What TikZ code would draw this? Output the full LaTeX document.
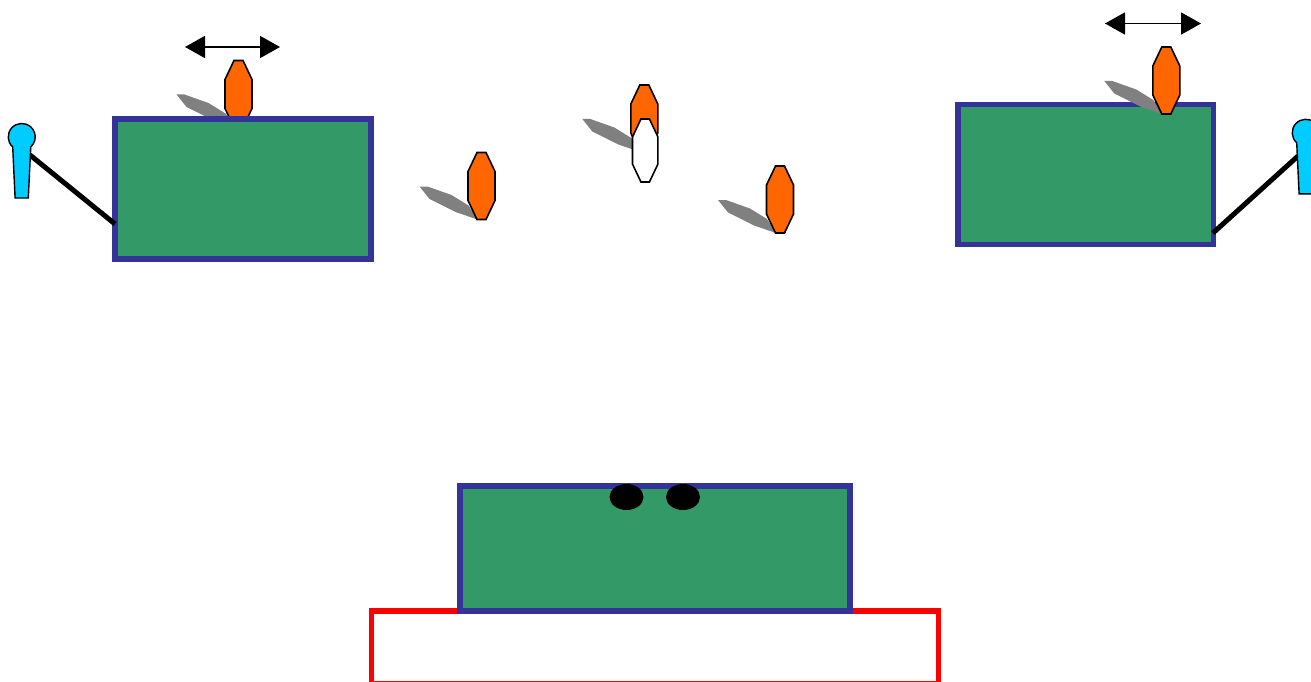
\documentclass[tikz,border=0pt]{standalone}
\usepackage{xcolor}
\usepackage{tikz}
\usetikzlibrary{arrows.meta, shapes.geometric}
\definecolor{bodygreen}{HTML}{339966}
\definecolor{edgeblue}{HTML}{333399}
\definecolor{cutorange}{HTML}{FF6600}
\definecolor{gripblue}{HTML}{00CCFF}
\tikzset{
  block/.style = {draw=edgeblue, fill=bodygreen, line width=5.5pt, inner sep=0pt},
  base/.style  = {draw=red, fill=white, line width=5.5pt, inner sep=0pt},
  hole/.style  = {ellipse, fill=black, inner sep=0pt, minimum width=34pt, minimum height=26pt},
  rod/.style   = {line width=5pt},
  span/.style  = {{Triangle[length=20pt,width=22pt]}-{Triangle[length=20pt,width=22pt]}, line width=1.8pt},
  pics/blade/.style = {code={
    \fill[gray] (-62,34)--(-54,34)--(-30,42.5)--(-13,53)--(-4,67)--(-26,59.5)--(-52,46.5)--cycle;}},
  pics/octa/.style = {code={
    \draw[line width=1.6pt, fill=#1] (-4.5,0)--(4.5,0)--(13.5,19)--(13.5,48)--(4.5,67)
      --(-4.5,67)--(-13.5,48)--(-13.5,19)--cycle;}},
  pics/grip/.style = {code={
    \draw[line width=1.4pt, fill=gripblue] (-9,10) arc[start angle=132, end angle=408, radius=13.5]
      --(6.6,61)--(-6.6,61)--cycle;}},
}
\begin{document}
\begin{tikzpicture}[x=1pt, y=-1pt]
  \useasboundingbox (0,0) rectangle (1311,682);
  \clip (0,0) rectangle (1311,682);
  % left stage
  \pic at (238.5,60.5) {blade};
  \pic at (238.5,60.5) {octa=cutorange};
  \node[block, minimum width=256pt, minimum height=140pt] (leftbox) at (243,189) {};
  \coordinate (leftgrip) at (30,155);
  \coordinate (lefthinge) at (115,224);
  \draw[rod] (leftgrip)--(lefthinge);
  \pic at (21.7,137) {grip};
  \coordinate (leftA) at (185,47);
  \coordinate (leftB) at (280,47);
  \draw[span] (leftA)--(leftB);
  % free tools
  \pic at (481.5,152.5) {blade};
  \pic at (481.5,152.5) {octa=cutorange};
  \pic at (644.3,85) {blade};
  \pic at (644.3,85) {octa=cutorange};
  \pic[xscale=.94, yscale=.94] at (645.2,119) {octa=white};
  \pic at (780,166) {blade};
  \pic at (780,166) {octa=cutorange};
  % right stage
  \node[block, minimum width=255.5pt, minimum height=140pt] (rightbox) at (1085.7,174.5) {};
  \pic at (1166.3,47) {blade};
  \pic at (1166.3,47) {octa=cutorange};
  \coordinate (rightgrip) at (1298,156);
  \coordinate (righthinge) at (1213,233);
  \draw[rod] (rightgrip)--(righthinge);
  \pic at (1305.7,132.8) {grip};
  \coordinate (rightA) at (1105,23.5);
  \coordinate (rightB) at (1201,23.5);
  \draw[span] (rightA)--(rightB);
  % bottom stage
  \node[base, minimum width=567pt, minimum height=73pt] (plate) at (655,647.5) {};
  \node[block, minimum width=390pt, minimum height=125pt] (lowerbox) at (655,548.5) {};
  \node[hole] (holeA) at (626.5,497) {};
  \node[hole] (holeB) at (683,497) {};
\end{tikzpicture}
\end{document}
